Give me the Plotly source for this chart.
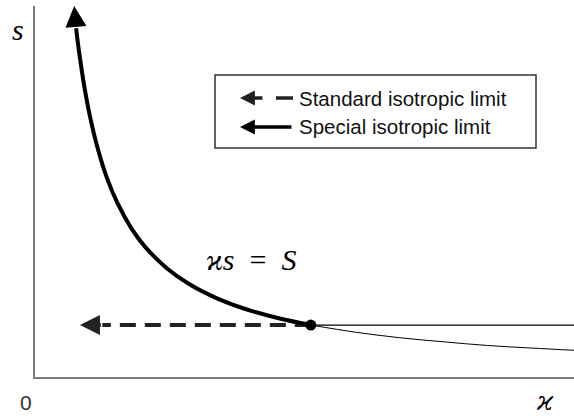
import plotly.graph_objects as go

# Hyperbola kappa * s = S
curve_kappa = [0.745, 0.8, 0.9, 1.0, 1.15, 1.3, 1.5, 1.75, 2.0, 2.4, 2.8, 3.3, 3.8, 4.4, 5.0]
curve_s = [9.40, 8.75, 7.78, 7.00, 6.09, 5.38, 4.67, 4.00, 3.50, 2.92, 2.50, 2.12, 1.84, 1.59, 1.40]
tail_kappa = [5.0, 5.8, 6.6, 7.4, 8.2, 9.0, 9.77]
tail_s = [1.40, 1.21, 1.06, 0.95, 0.85, 0.78, 0.72]
point_kappa = [5.0]
point_s = [1.40]
flat_kappa = [5.0, 9.77]
dash_kappa = [5.0, 1.22]
arrow_tip = (0.71, 10.0)
dash_tip_kappa = 0.815
X_RANGE = [0, 9.77]
Y_RANGE = [0, 10.0]
legend_labels = ["Standard isotropic limit", "Special isotropic limit"]

fig = go.Figure()
fig.add_trace(go.Scatter(x=flat_kappa, y=[point_s[0]] * 2, mode="lines",
                         line=dict(color="black", width=1.2), hoverinfo="skip"))
fig.add_trace(go.Scatter(x=tail_kappa, y=tail_s, mode="lines", line_shape="spline",
                         line=dict(color="black", width=1), hoverinfo="skip"))
fig.add_trace(go.Scatter(x=dash_kappa, y=[point_s[0]] * 2, mode="lines",
                         line=dict(color="#222", width=4, dash="16px,9px"), hoverinfo="skip"))
fig.add_trace(go.Scatter(x=curve_kappa, y=curve_s, mode="lines", line_shape="spline",
                         line=dict(color="black", width=4), hoverinfo="skip"))
fig.add_trace(go.Scatter(x=point_kappa, y=point_s, mode="markers",
                         marker=dict(color="black", size=11), hoverinfo="skip"))

# Arrowheads
fig.add_annotation(x=arrow_tip[0], y=arrow_tip[1], ax=curve_kappa[0], ay=curve_s[0],
                   xref="x", yref="y", axref="x", ayref="y", text="", showarrow=True,
                   arrowhead=2, arrowwidth=4, arrowsize=1.05, arrowcolor="black", standoff=0)
fig.add_annotation(x=dash_tip_kappa, y=point_s[0], ax=dash_kappa[1], ay=point_s[0],
                   xref="x", yref="y", axref="x", ayref="y", text="", showarrow=True,
                   arrowhead=2, arrowwidth=4, arrowsize=1.0, arrowcolor="#222", standoff=0)

# Legend box
fig.add_shape(type="rect", xref="paper", yref="paper", x0=0.334, x1=0.9295, y0=0.617, y1=0.814,
              line=dict(color="#333", width=1.5), fillcolor="rgba(0,0,0,0)")
rows_y = [0.752, 0.674]
# row 1: dashed arrow
fig.add_annotation(x=0.3803, y=rows_y[0], ax=24, ay=0, xref="paper", yref="paper",
                   axref="pixel", ayref="pixel", text="", showarrow=True, arrowhead=2,
                   arrowwidth=3.5, arrowsize=0.85, arrowcolor="#222", standoff=0)
fig.add_shape(type="line", xref="paper", yref="paper", x0=0.4471, x1=0.4787,
              y0=rows_y[0], y1=rows_y[0], line=dict(color="#222", width=3.5))
# row 2: solid arrow
fig.add_annotation(x=0.3803, y=rows_y[1], ax=53, ay=0, xref="paper", yref="paper",
                   axref="pixel", ayref="pixel", text="", showarrow=True, arrowhead=2,
                   arrowwidth=3.5, arrowsize=0.85, arrowcolor="black", standoff=0)
for lbl, yy in zip(legend_labels, rows_y):
    fig.add_annotation(x=0.486, y=yy, xref="paper", yref="paper", text=lbl, showarrow=False,
                       xanchor="left", yanchor="middle",
                       font=dict(family="Liberation Sans, Arial", size=20.5, color="#111"))

# Axis labels and curve label
fig.add_annotation(x=-0.0167, y=-0.0674, xref="paper", yref="paper", text="0", showarrow=False,
                   xanchor="center", yanchor="middle",
                   font=dict(family="Liberation Sans, Arial", size=21, color="#333"))
fig.add_annotation(x=0.946, y=-0.066, xref="paper", yref="paper", text="<i>ϰ</i>", showarrow=False,
                   xanchor="center", yanchor="middle",
                   font=dict(family="DejaVu Serif", size=26, color="black"))
fig.add_annotation(x=-0.0315, y=0.936, xref="paper", yref="paper", text="<i>s</i>", showarrow=False,
                   xanchor="center", yanchor="middle",
                   font=dict(family="Liberation Serif", size=30, color="black"))
fig.add_annotation(x=0.4007, y=0.318, xref="paper", yref="paper",
                   text="<i>ϰs</i>  =  <i>S</i>", showarrow=False,
                   xanchor="center", yanchor="middle",
                   font=dict(family="Liberation Serif, DejaVu Serif", size=30, color="black"))

fig.update_xaxes(range=X_RANGE, showgrid=False, zeroline=False, showticklabels=False, ticks="",
                 showline=True, linecolor="#7a7a7a", linewidth=2)
fig.update_yaxes(range=Y_RANGE, showgrid=False, zeroline=False, showticklabels=False, ticks="",
                 showline=True, linecolor="#7a7a7a", linewidth=1.5)
fig.update_layout(width=574, height=416, margin=dict(l=35, r=0, t=6, b=39),
                  plot_bgcolor="white", paper_bgcolor="white", showlegend=False)
fig.write_html("out.html", config={"displayModeBar": False},
               post_script="document.body.style.margin='0';")
